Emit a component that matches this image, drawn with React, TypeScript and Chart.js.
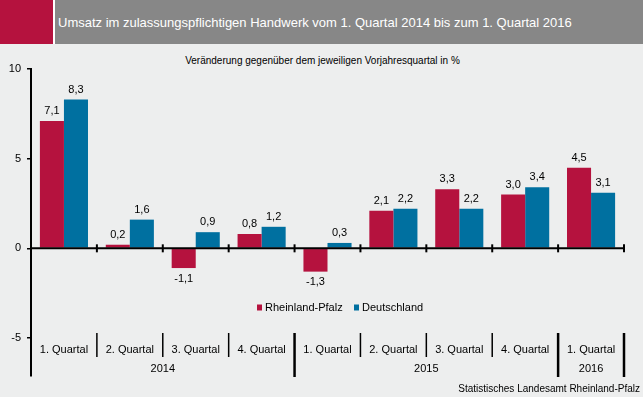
import React, { useEffect, useRef } from "react";
import { Chart, registerables } from "chart.js";

Chart.register(...registerables);

const quarters = ["1. Quartal", "2. Quartal", "3. Quartal", "4. Quartal", "1. Quartal", "2. Quartal", "3. Quartal", "4. Quartal", "1. Quartal"];
const years = ["2014", "2015", "2016"];
const yearSpans = [4, 4, 1];
const rlpValues = [7.1, 0.2, -1.1, 0.8, -1.3, 2.1, 3.3, 3.0, 4.5];
const deValues = [8.3, 1.6, 0.9, 1.2, 0.3, 2.2, 2.2, 3.4, 3.1];
const yTicks = [-5, 0, 5, 10];
const seriesNames = ["Rheinland-Pfalz", "Deutschland"];

const RED = "#B5123E";
const BLUE = "#0070A0";
const FONT = "Arial, 'Liberation Sans', sans-serif";

const fmt = (v: number) => v.toFixed(1).replace(".", ",");

const overlay = {
  id: "overlay",
  afterDatasetsDraw(chart: any) {
    const ctx = chart.ctx;
    const area = chart.chartArea;
    const xs = chart.scales.x;
    const ys = chart.scales.y;
    const n = quarters.length;
    const catW = (area.right - area.left) / n;
    const y0 = ys.getPixelForValue(0);
    ctx.save();
    ctx.strokeStyle = "#000";
    ctx.lineWidth = 2;
    ctx.beginPath();
    ctx.moveTo(area.left, y0);
    ctx.lineTo(area.right, y0);
    ctx.stroke();
    for (let k = 1; k <= n; k++) {
      const x = area.left + k * catW;
      ctx.beginPath();
      ctx.moveTo(x, y0 - 4);
      ctx.lineTo(x, y0 + 4);
      ctx.stroke();
    }
    ctx.fillStyle = "#000";
    ctx.font = "11px " + FONT;
    ctx.textAlign = "center";
    ctx.textBaseline = "middle";
    chart.data.datasets.forEach((ds: any, di: number) => {
      const meta = chart.getDatasetMeta(di);
      meta.data.forEach((bar: any, i: number) => {
        const v = ds.data[i];
        const y = ys.getPixelForValue(v);
        const ly = v >= 0 ? y - 10 : y + 10.5;
        ctx.fillText(fmt(v), bar.x, ly);
      });
    });
    const top = area.bottom - 43;
    for (let k = 0; k < n; k++) {
      const cx = xs.getPixelForValue(k);
      ctx.fillText(quarters[k], cx, area.bottom - 26);
    }
    let start = 0;
    years.forEach((yr, j) => {
      const span = yearSpans[j];
      const cx = area.left + (start + span / 2) * catW;
      ctx.fillText(yr, cx, area.bottom - 7);
      start += span;
    });
    const longs: number[] = [];
    let acc = 0;
    yearSpans.forEach((s) => {
      acc += s;
      longs.push(acc);
    });
    for (let k = 1; k <= n; k++) {
      const x = area.left + k * catW;
      const isLong = longs.includes(k);
      ctx.lineWidth = isLong ? 2.5 : 1.5;
      ctx.beginPath();
      ctx.moveTo(x, top);
      ctx.lineTo(x, isLong ? area.bottom + 1 : area.bottom - 19);
      ctx.stroke();
    }
    const ly = 307.5;
    ctx.textAlign = "left";
    ctx.fillStyle = RED;
    ctx.fillRect(257, ly - 3, 5, 6);
    ctx.fillStyle = "#000";
    ctx.fillText(seriesNames[0], 265, ly);
    ctx.fillStyle = BLUE;
    ctx.fillRect(354, ly - 3, 5, 6);
    ctx.fillStyle = "#000";
    ctx.fillText(seriesNames[1], 362, ly);
    ctx.restore();
  },
};

export default function App() {
  const ref = useRef<HTMLCanvasElement>(null);
  useEffect(() => {
    const chart = new Chart(ref.current as HTMLCanvasElement, {
      type: "bar",
      data: {
        labels: quarters,
        datasets: [
          { label: seriesNames[0], data: rlpValues, backgroundColor: RED, barPercentage: 1, categoryPercentage: 0.73 },
          { label: seriesNames[1], data: deValues, backgroundColor: BLUE, barPercentage: 1, categoryPercentage: 0.73 },
        ],
      },
      options: {
        animation: false,
        responsive: false,
        devicePixelRatio: 1,
        layout: { padding: { top: 69, right: 19, bottom: 21, left: 0 } },
        plugins: { legend: { display: false }, title: { display: false }, tooltip: { enabled: false } },
        scales: {
          x: { display: false, grid: { display: false }, border: { display: false } },
          y: {
            min: -7.12,
            max: 10,
            afterFit: (s: any) => {
              s.width = 31;
            },
            afterBuildTicks: (s: any) => {
              s.ticks = yTicks.map((v) => ({ value: v }));
            },
            border: { display: true, color: "#000", width: 2 },
            grid: { drawOnChartArea: false, drawTicks: true, tickLength: 4, color: "#000", lineWidth: 1.5 },
            ticks: {
              color: "#000",
              padding: 6,
              font: { family: FONT, size: 11 },
              callback: (v: any) => String(v),
            },
          },
        },
      },
      plugins: [overlay],
    });
    return () => chart.destroy();
  }, []);

  return (
    <div style={{ position: "fixed", left: 0, top: 0, width: 643, height: 397, background: "#EDEEEE", overflow: "hidden", fontFamily: FONT }}>
      <div style={{ position: "absolute", left: 0, top: 0, width: 53, height: 44, background: RED }} />
      <div style={{ position: "absolute", left: 53, top: 0, width: 2, height: 44, background: "#FFFFFF" }} />
      <div style={{ position: "absolute", left: 55, top: 0, width: 588, height: 44, background: "#878787" }} />
      <div style={{ position: "absolute", left: 58, top: 15, color: "#FFFFFF", fontSize: 13, lineHeight: "16px", whiteSpace: "nowrap" }}>
        Umsatz im zulassungspflichtigen Handwerk vom 1. Quartal 2014 bis zum 1. Quartal 2016
      </div>
      <div style={{ position: "absolute", left: 0, width: 643, top: 54, textAlign: "center", fontSize: 10, lineHeight: "14px", color: "#000", paddingLeft: 1 }}>
        Veränderung gegenüber dem jeweiligen Vorjahresquartal in %
      </div>
      <canvas ref={ref} width={643} height={397} style={{ position: "absolute", left: 0, top: 0, width: 643, height: 397 }} />
      <div style={{ position: "absolute", right: 3, top: 382, fontSize: 10, lineHeight: "14px", color: "#000", whiteSpace: "nowrap" }}>
        Statistisches Landesamt Rheinland-Pfalz
      </div>
    </div>
  );
}
